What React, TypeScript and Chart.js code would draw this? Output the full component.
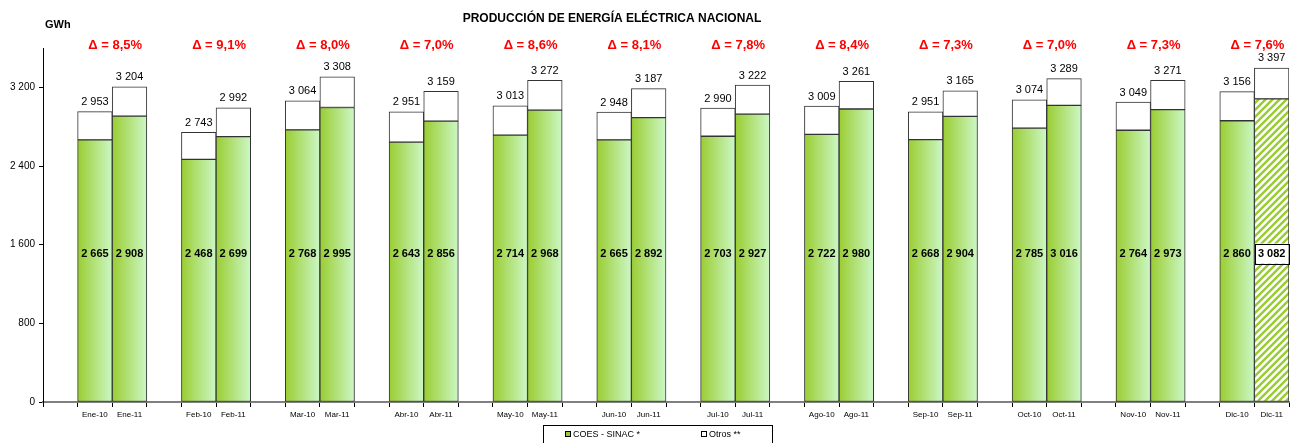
import React, { useEffect, useRef } from 'react';
import { Chart, registerables } from 'chart.js';

Chart.register(...registerables);

const periods = [
  'Ene-10', 'Ene-11', 'Feb-10', 'Feb-11', 'Mar-10', 'Mar-11', 'Abr-10', 'Abr-11',
  'May-10', 'May-11', 'Jun-10', 'Jun-11', 'Jul-10', 'Jul-11', 'Ago-10', 'Ago-11',
  'Sep-10', 'Sep-11', 'Oct-10', 'Oct-11', 'Nov-10', 'Nov-11', 'Dic-10', 'Dic-11',
];
const coesValues = [
  2665, 2908, 2468, 2699, 2768, 2995, 2643, 2856, 2714, 2968, 2665, 2892,
  2703, 2927, 2722, 2980, 2668, 2904, 2785, 3016, 2764, 2973, 2860, 3082,
];
const totalValues = [
  2953, 3204, 2743, 2992, 3064, 3308, 2951, 3159, 3013, 3272, 2948, 3187,
  2990, 3222, 3009, 3261, 2951, 3165, 3074, 3289, 3049, 3271, 3156, 3397,
];
const deltaLabels = [
  '8,5%', '9,1%', '8,0%', '7,0%', '8,6%', '8,1%', '7,8%', '8,4%', '7,3%', '7,0%', '7,3%', '7,6%',
];
const yTickValues = [0, 800, 1600, 2400, 3200];
const yMax = 3600;
const innerLabelValue = 1510;

const FONT = '"Liberation Sans", Arial, sans-serif';

// Build 36 slots: blank, x-10, x-11 per month
const slotLabels: string[] = [];
const slotCoes: (number | null)[] = [];
const slotOtros: (number | null)[] = [];
const slotPeriodIndex: number[] = [];
for (let m = 0; m < 12; m++) {
  slotLabels.push('');
  slotCoes.push(null);
  slotOtros.push(null);
  slotPeriodIndex.push(-1);
  for (let k = 0; k < 2; k++) {
    const i = m * 2 + k;
    slotLabels.push(periods[i]);
    slotCoes.push(coesValues[i]);
    slotOtros.push(totalValues[i] - coesValues[i]);
    slotPeriodIndex.push(i);
  }
}
const NSLOTS = slotLabels.length;
const hatchSlot = NSLOTS - 1;

const fmt = (n: number) => String(n).replace(/\B(?=(\d{3})+(?!\d))/g, ' ');

function makeHatch(): CanvasPattern | string {
  const c = document.createElement('canvas');
  c.width = 7;
  c.height = 7;
  const g = c.getContext('2d');
  if (!g) return '#9ccf36';
  g.fillStyle = '#ffffff';
  g.fillRect(0, 0, 7, 7);
  g.strokeStyle = '#99cc33';
  g.lineWidth = 2.4;
  g.beginPath();
  g.moveTo(-2, 9); g.lineTo(9, -2);
  g.moveTo(-5, 5); g.lineTo(5, -5);
  g.moveTo(2, 12); g.lineTo(12, 2);
  g.stroke();
  const p = g.createPattern(c, 'repeat');
  return p || '#9ccf36';
}

const labelsPlugin = {
  id: 'customLabels',
  afterDatasetsDraw(chart: any) {
    const ctx = chart.ctx as CanvasRenderingContext2D;
    const xs = chart.scales.x;
    const ys = chart.scales.y;
    const area = chart.chartArea;
    const w = (area.right - area.left) / NSLOTS;
    ctx.save();
    for (let s = 0; s < NSLOTS; s++) {
      const pi = slotPeriodIndex[s];
      if (pi < 0) continue;
      const cx = xs.getPixelForValue(s);
      ctx.fillStyle = '#000';
      ctx.font = `11px ${FONT}`;
      ctx.textAlign = 'center';
      ctx.textBaseline = 'bottom';
      ctx.fillText(fmt(totalValues[pi]), cx, ys.getPixelForValue(totalValues[pi]) - 4);
      const iy = ys.getPixelForValue(innerLabelValue);
      ctx.font = `bold 11px ${FONT}`;
      ctx.textBaseline = 'middle';
      const txt = fmt(coesValues[pi]);
      if (s === hatchSlot) {
        const tw = ctx.measureText(txt).width + 6;
        ctx.fillStyle = '#fff';
        ctx.fillRect(cx - tw / 2, iy - 10, tw, 20);
        ctx.strokeStyle = '#000';
        ctx.lineWidth = 1;
        ctx.strokeRect(Math.round(cx - tw / 2) + 0.5, Math.round(iy - 10) + 0.5, Math.round(tw), 20);
        ctx.fillStyle = '#000';
      }
      ctx.fillText(txt, cx, iy);
    }
    // deltas
    ctx.fillStyle = '#ff0000';
    ctx.font = `bold 13px ${FONT}`;
    ctx.textAlign = 'center';
    ctx.textBaseline = 'alphabetic';
    for (let m = 0; m < 12; m++) {
      const s = m * 3 + 1;
      const cx = xs.getPixelForValue(s) + w / 2 + 3;
      ctx.fillText('\u0394 = ' + deltaLabels[m], cx, area.top + 1);
    }
    // title
    ctx.fillStyle = '#000';
    ctx.font = `bold 12px ${FONT}`;
    ctx.fillText('PRODUCCIÓN DE ENERGÍA ELÉCTRICA NACIONAL', 612, 22);
    ctx.font = `bold 11px ${FONT}`;
    ctx.textAlign = 'left';
    ctx.fillText('GWh', 45, 28);
    // legend
    const lx = 543, ly = 425, lw = 229, lh = 24;
    ctx.strokeStyle = '#000';
    ctx.lineWidth = 1;
    ctx.strokeRect(lx + 0.5, ly + 0.5, lw, lh);
    ctx.font = `9px ${FONT}`;
    ctx.textBaseline = 'middle';
    const ty = 435;
    ctx.fillStyle = '#99cc33';
    ctx.fillRect(566, ty - 3, 5, 5);
    ctx.strokeRect(565.5, ty - 3.5, 5, 5);
    ctx.fillStyle = '#000';
    ctx.fillText('COES - SINAC *', 573, ty);
    ctx.fillStyle = '#fff';
    ctx.fillRect(702, ty - 3, 5, 5);
    ctx.strokeRect(701.5, ty - 3.5, 5, 5);
    ctx.fillStyle = '#000';
    ctx.fillText('Otros **', 709, ty);
    ctx.restore();
  },
};

export default function App() {
  const ref = useRef<HTMLCanvasElement | null>(null);
  useEffect(() => {
    if (!ref.current) return;
    const hatch = makeHatch();
    const chart = new Chart(ref.current, {
      type: 'bar',
      data: {
        labels: slotLabels,
        datasets: [
          {
            label: 'COES - SINAC *',
            data: slotCoes,
            backgroundColor: (c: any) => {
              if (c.dataIndex === hatchSlot) return hatch;
              const ch = c.chart;
              const xs = ch.scales && ch.scales.x;
              if (!xs || !ch.chartArea) return '#b5e07a';
              const w = (ch.chartArea.right - ch.chartArea.left) / NSLOTS;
              const cx = xs.getPixelForValue(c.dataIndex);
              const g = ch.ctx.createLinearGradient(cx - w / 2, 0, cx + w / 2, 0);
              g.addColorStop(0, '#9acd32');
              g.addColorStop(1, '#ccf7c6');
              return g;
            },
            borderColor: '#333333',
            borderWidth: 1,
            borderSkipped: false,
          },
          {
            label: 'Otros **',
            data: slotOtros,
            backgroundColor: '#ffffff',
            borderColor: '#333333',
            borderWidth: 1,
            borderSkipped: false,
          },
        ],
      },
      options: {
        responsive: false,
        animation: false,
        maintainAspectRatio: false,
        layout: { padding: { top: 48, right: 8, left: 0, bottom: 0 } },
        plugins: {
          legend: { display: false },
          title: { display: false },
          tooltip: { enabled: false },
        },
        datasets: { bar: { barPercentage: 1, categoryPercentage: 1 } },
        scales: {
          x: {
            stacked: true,
            offset: true,
            grid: {
              offset: true,
              drawOnChartArea: false,
              drawTicks: true,
              tickLength: 5,
              color: '#000',
            },
            border: { color: '#808080', width: 2 },
            ticks: {
              autoSkip: false,
              maxRotation: 0,
              minRotation: 0,
              padding: 3,
              color: '#000',
              font: { family: FONT, size: 8 },
            },
            afterFit: (s: any) => { s.height = 41; },
          },
          y: {
            stacked: true,
            min: 0,
            max: yMax,
            grid: { drawOnChartArea: false, tickLength: 4, color: '#000' },
            border: { color: '#000', width: 1 },
            afterBuildTicks: (s: any) => { s.ticks = yTickValues.map((v) => ({ value: v })); },
            ticks: {
              padding: 4,
              color: '#000',
              font: { family: FONT, size: 10 },
              callback: (v: any) => fmt(Number(v)),
            },
            afterFit: (s: any) => { s.width = 43; },
          },
        },
      },
      plugins: [labelsPlugin],
    } as any);
    return () => chart.destroy();
  }, []);
  return (
    <div style={{ position: 'fixed', left: 0, top: 0, width: 1297, height: 443, background: '#fff' }}>
      <canvas ref={ref} width={1297} height={443} style={{ width: 1297, height: 443, display: 'block' }} />
    </div>
  );
}
